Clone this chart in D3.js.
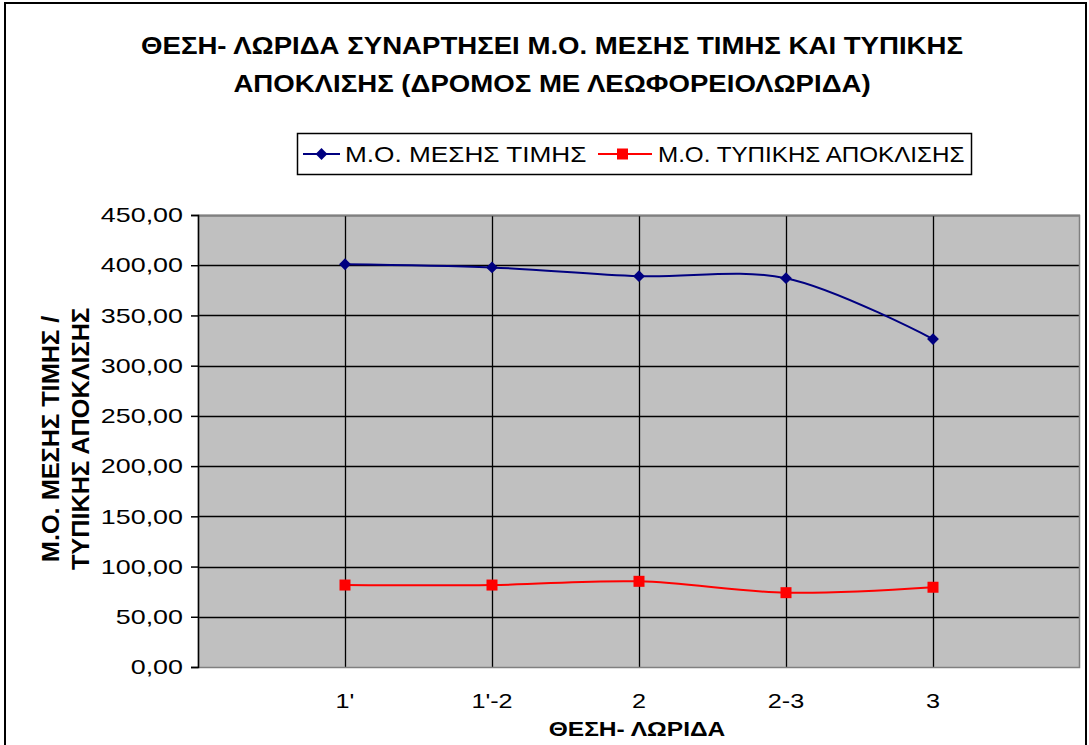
<!DOCTYPE html>
<html><head><meta charset="utf-8">
<script src="https://cdn.jsdelivr.net/npm/d3@7"></script>
<style>body{margin:0;background:#fff}svg{display:block}text{font-family:"Liberation Sans",Arial,sans-serif}</style>
</head><body>
<svg id="c" width="1089" height="745"></svg>
<script>
const categories = ["1'", "1'-2", "2", "2-3", "3"];
const meanValues = [401.0, 397.8, 389.1, 387.1, 326.5];
const stdValues = [81.6, 81.6, 85.3, 74.0, 79.4];
const yTicks = [0, 50, 100, 150, 200, 250, 300, 350, 400, 450];
const seriesNames = ["Μ.Ο. ΜΕΣΗΣ ΤΙΜΗΣ", "Μ.Ο. ΤΥΠΙΚΗΣ ΑΠΟΚΛΙΣΗΣ"];
const titleLines = ["ΘΕΣΗ- ΛΩΡΙΔΑ ΣΥΝΑΡΤΗΣΕΙ Μ.Ο. ΜΕΣΗΣ ΤΙΜΗΣ ΚΑΙ ΤΥΠΙΚΗΣ", "ΑΠΟΚΛΙΣΗΣ (ΔΡΟΜΟΣ ΜΕ ΛΕΩΦΟΡΕΙΟΛΩΡΙΔΑ)"];
const yTitleLines = ["Μ.Ο. ΜΕΣΗΣ ΤΙΜΗΣ /", "ΤΥΠΙΚΗΣ ΑΠΟΚΛΙΣΗΣ"];
const xTitle = "ΘΕΣΗ- ΛΩΡΙΔΑ";

const svg = d3.select("#c");
const L = 198, R = 1080, T = 215, B = 667;

// stretched text helper
function sText(parent, x, y, txt, size, sx, anchor, bold) {
  const g = parent.append("g").attr("transform", `translate(${x},${y}) scale(${sx},1)`);
  g.append("text").attr("x", 0).attr("y", 0).attr("text-anchor", anchor || "start")
    .attr("font-size", size).attr("font-weight", bold ? "bold" : "normal").attr("fill", "#000").text(txt);
  return g;
}

svg.append("rect").attr("x", 5).attr("y", 3).attr("width", 1081).attr("height", 770)
  .attr("fill", "#fff").attr("stroke", "#000").attr("stroke-width", 2);

const x = d3.scalePoint().domain(["__s", ...categories, "__e"]).range([L, R]);
const y = d3.scaleLinear().domain([0, 450]).range([B, T]);

svg.append("rect").attr("x", L).attr("y", T).attr("width", R - L).attr("height", B - T)
  .attr("fill", "#c0c0c0");

// horizontal grid
svg.append("g").selectAll("line").data(yTicks.slice(1)).join("line")
  .attr("x1", L).attr("x2", R).attr("y1", d => Math.round(y(d)) + 0.5).attr("y2", d => Math.round(y(d)) + 0.5)
  .attr("stroke", "#000").attr("stroke-width", 1.3);
// vertical grid
svg.append("g").selectAll("line").data(categories).join("line")
  .attr("x1", d => Math.round(x(d)) + 0.5).attr("x2", d => Math.round(x(d)) + 0.5).attr("y1", T).attr("y2", B)
  .attr("stroke", "#000").attr("stroke-width", 1.3);

// plot border
svg.append("rect").attr("x", L + 0.5).attr("y", T + 0.5).attr("width", R - L - 1).attr("height", B - T)
  .attr("fill", "none").attr("stroke", "#808080").attr("stroke-width", 1.5);

// y axis
const tickSX = 1.28;
const yAxis = d3.axisLeft(y).tickValues(yTicks).tickSize(7).tickPadding(8)
  .tickFormat(d => d3.format(".2f")(d).replace(".", ","));
const ga = svg.append("g").attr("transform", `translate(${L},0)`).call(yAxis);
ga.select(".domain").attr("stroke", "#000").attr("stroke-width", 1.5);
ga.selectAll(".tick line").attr("stroke", "#000").attr("stroke-width", 1.5);
ga.selectAll(".tick text").attr("font-size", 21).attr("fill", "#000")
  .attr("x", -15 / tickSX).attr("transform", `scale(${tickSX},1)`)
  .style("font-family", '"Liberation Sans", Arial, sans-serif');

// x labels
const xl = svg.append("g");
categories.forEach(c => sText(xl, x(c), 708, c, 21, 1.2, "middle", false));

// lines
const line = d3.line().x((d, i) => x(categories[i])).y(d => y(d)).curve(d3.curveCatmullRom.alpha(0.5));
svg.append("path").datum(meanValues).attr("d", line).attr("fill", "none")
  .attr("stroke", "#000080").attr("stroke-width", 2);
svg.append("path").datum(stdValues).attr("d", line).attr("fill", "none")
  .attr("stroke", "#ff0000").attr("stroke-width", 2);

svg.append("g").selectAll("path").data(meanValues).join("path")
  .attr("d", d3.symbol().type(d3.symbolSquare).size(70))
  .attr("transform", (d, i) => `translate(${x(categories[i])},${y(d)}) rotate(45)`)
  .attr("fill", "#000080");
svg.append("g").selectAll("rect").data(stdValues).join("rect")
  .attr("x", (d, i) => x(categories[i]) - 5.5).attr("y", d => y(d) - 5.5)
  .attr("width", 11).attr("height", 11).attr("fill", "#ff0000");

// title
const tg = svg.append("g");
titleLines.forEach((t, i) => sText(tg, 552, 54 + i * 38, t, 23, 1.2, "middle", true));

// legend
const lg = svg.append("g");
lg.append("rect").attr("x", 297.5).attr("y", 133.5).attr("width", 674).attr("height", 41)
  .attr("fill", "#fff").attr("stroke", "#000").attr("stroke-width", 1.5);
lg.append("line").attr("x1", 303).attr("x2", 340).attr("y1", 154).attr("y2", 154).attr("stroke", "#000080").attr("stroke-width", 2);
lg.append("path").attr("d", d3.symbol().type(d3.symbolSquare).size(70)).attr("transform", "translate(321.5,154) rotate(45)").attr("fill", "#000080");
sText(lg, 345, 162, seriesNames[0], 22, 1.19, "start", false);
lg.append("line").attr("x1", 598).attr("x2", 652).attr("y1", 154).attr("y2", 154).attr("stroke", "#ff0000").attr("stroke-width", 2);
lg.append("rect").attr("x", 617).attr("y", 148.5).attr("width", 11).attr("height", 11).attr("fill", "#ff0000");
sText(lg, 658, 162, seriesNames[1], 22, 1.1, "start", false);

// y title
const yt = svg.append("g").attr("transform", "translate(51,439) rotate(-90)");
yTitleLines.forEach((t, i) => sText(yt, 0, 8 + i * 30, t, 23, 1.1, "middle", true));

// x title
sText(svg, 637, 736, xTitle, 21, 1.17, "middle", true);
</script>
</body></html>
